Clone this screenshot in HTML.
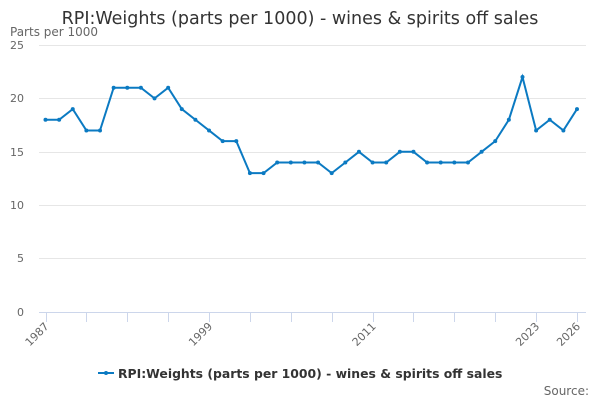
<!DOCTYPE html>
<html><head><meta charset="utf-8"><style>
body{margin:0;background:#fff}
svg text{font-family:"DejaVu Sans","Liberation Sans",sans-serif}
</style></head><body>
<svg width="600" height="400" xmlns="http://www.w3.org/2000/svg">
<text x="300" y="24" text-anchor="middle" font-size="17.5" fill="#333">RPI:Weights (parts per 1000) - wines &amp; spirits off sales</text>
<text x="10" y="36" font-size="12" fill="#666">Parts per 1000</text>
<g stroke="#e6e6e6" stroke-width="1">
<line x1="39" x2="586" y1="45.5" y2="45.5"/>
<line x1="39" x2="586" y1="98.5" y2="98.5"/>
<line x1="39" x2="586" y1="152.5" y2="152.5"/>
<line x1="39" x2="586" y1="205.5" y2="205.5"/>
<line x1="39" x2="586" y1="258.5" y2="258.5"/>
</g>
<line x1="39" x2="586" y1="312.5" y2="312.5" stroke="#ccd6eb"/>
<g stroke="#ccd6eb" id="ticks"></g>
<g font-size="11" fill="#666" text-anchor="end">
<text x="24" y="316">0</text><text x="24" y="262">5</text><text x="24" y="209">10</text>
<text x="24" y="156">15</text><text x="24" y="102">20</text><text x="24" y="49">25</text>
</g>
<g font-size="11" fill="#666" text-anchor="end" id="xl"></g>
<polyline id="ln" fill="none" stroke="#0b7ac2" stroke-width="2"/>
<g id="pts" fill="#0b7ac2"></g>
<line x1="98" x2="114" y1="373" y2="373" stroke="#0b7ac2" stroke-width="2"/>
<circle cx="106" cy="373" r="2" fill="#0b7ac2"/>
<text x="118" y="378" font-size="12.4" font-weight="bold" fill="#333">RPI:Weights (parts per 1000) - wines &amp; spirits off sales</text>
<text x="589" y="395" font-size="12" fill="#666" text-anchor="end">Source:</text>
<script>
var v=[18,18,19,17,17,21,21,21,20,21,19,18,17,16,16,13,13,14,14,14,14,13,14,15,14,14,15,15,14,14,14,14,15,16,18,22,17,18,17,19];
var ns="http://www.w3.org/2000/svg",p=[],g=document.getElementById('pts');
function X(i){return 45.5+i*(577-45.5)/39}
function Y(y){return 312-y*10.68}
v.forEach(function(y,i){p.push(X(i)+","+Y(y));var c=document.createElementNS(ns,'circle');c.setAttribute('cx',X(i));c.setAttribute('cy',Y(y));c.setAttribute('r',2);g.appendChild(c);});
document.getElementById('ln').setAttribute('points',p.join(' '));
var t=document.getElementById('ticks');
for(var i=0;i<=39;i+=3){add(i)}add(39);
function add(i){var l=document.createElementNS(ns,'line');var x=Math.round(X(i))+.5;l.setAttribute('x1',x);l.setAttribute('x2',x);l.setAttribute('y1',312);l.setAttribute('y2',322);t.appendChild(l);}
var xl=document.getElementById('xl');
[[0,1987],[12,1999],[24,2011],[36,2023],[39,2026]].forEach(function(a){var e=document.createElementNS(ns,'text');var x=X(a[0])+4,y=327;e.setAttribute('x',x);e.setAttribute('y',y);e.setAttribute('transform','rotate(-45 '+x+' '+y+')');e.textContent=a[1];xl.appendChild(e);});
</script>
</svg>
</body></html>
